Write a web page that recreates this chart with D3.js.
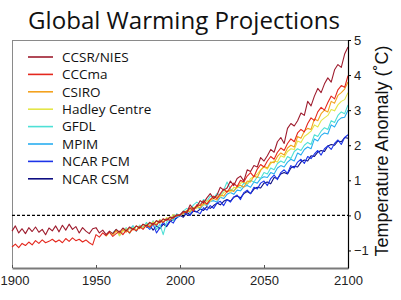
<!DOCTYPE html>
<html><head><meta charset="utf-8">
<script src="https://cdn.jsdelivr.net/npm/d3@7"></script>
<style>html,body{margin:0;padding:0;background:#fff;}svg{display:block;}</style>
</head><body>
<script>
// ---- Data (°C anomaly, 2-year steps) ----
const seriesNames = ["CCSR/NIES","CCCma","CSIRO","Hadley Centre","GFDL","MPIM","NCAR PCM","NCAR CSM"];
const seriesColors = ["#9e1c2e","#e4281e","#f4a21e","#e4e648","#4ee0d6","#2aaef0","#1c34e8","#0e0e82"];
const startYears = [1900,1900,1960,1956,1960,1970,1980,1980];
const yearStep = 2;

const ccsrNies = [-0.45,-0.30,-0.50,-0.38,-0.52,-0.35,-0.46,-0.33,-0.48,-0.40,-0.55,-0.36,-0.44,-0.30,-0.47,-0.28,-0.42,-0.25,-0.40,-0.32,-0.50,-0.35,-0.45,-0.52,-0.38,
 -0.35,-0.50,-0.42,-0.55,-0.45,-0.52,-0.40,-0.48,-0.36,-0.44,-0.33,-0.40,-0.30,-0.36,-0.25,-0.30,-0.20,-0.26,-0.15,-0.20,-0.10,-0.14,-0.05,-0.08,0.02,
 0.00,0.12,0.08,0.30,0.18,0.25,0.42,0.35,0.50,0.62,0.48,0.58,0.80,0.72,0.78,0.98,0.85,1.05,1.12,0.98,1.30,1.25,1.42,1.38,1.65,1.55,1.70,1.88,1.80,2.10,2.22,2.05,2.48,2.62,2.55,2.70,2.92,2.85,3.25,3.12,3.40,3.62,3.50,3.75,3.92,3.80,4.15,4.30,4.22,4.60,4.80];
const cccma = [-0.90,-0.82,-0.92,-0.80,-0.86,-0.76,-0.84,-0.72,-0.80,-0.70,-0.78,-0.74,-0.68,-0.76,-0.70,-0.78,-0.66,-0.74,-0.64,-0.72,-0.68,-0.76,-0.70,-0.78,-0.84,
 -0.55,-0.62,-0.50,-0.58,-0.48,-0.60,-0.52,-0.45,-0.55,-0.42,-0.50,-0.38,-0.44,-0.32,-0.40,-0.28,-0.34,-0.22,-0.28,-0.15,-0.20,-0.10,-0.14,-0.04,-0.02,
 0.02,0.10,0.08,0.22,0.12,0.30,0.28,0.42,0.32,0.45,0.55,0.48,0.62,0.75,0.66,0.80,0.92,0.82,1.00,0.95,1.12,1.22,1.10,1.32,1.45,1.38,1.55,1.68,1.60,1.80,1.92,1.85,2.05,2.18,2.10,2.35,2.45,2.38,2.62,2.78,2.70,2.95,3.08,3.00,3.22,3.40,3.32,3.58,3.70,3.65,3.98];
const csiro = [-0.55,-0.45,-0.52,-0.40,-0.48,-0.35,-0.42,-0.30,-0.38,-0.26,-0.32,-0.20,-0.28,-0.15,-0.22,-0.10,-0.14,-0.05,-0.08,0.00,
 0.02,0.05,0.14,0.10,0.22,0.26,0.22,0.35,0.32,0.45,0.48,0.44,0.58,0.55,0.68,0.72,0.68,0.82,0.86,0.80,0.98,0.95,1.12,1.08,1.28,1.40,1.35,1.52,1.50,1.68,1.78,1.72,1.92,2.00,1.95,2.25,2.20,2.40,2.48,2.45,2.75,2.70,2.90,3.00,2.95,3.25,3.20,3.42,3.50,3.60,3.80];
const hadley = [-0.60,-0.48,-0.55,-0.42,-0.58,-0.45,-0.38,-0.50,-0.35,-0.42,-0.30,-0.36,-0.25,-0.32,-0.18,-0.25,-0.12,-0.18,-0.06,-0.10,0.02,-0.02,
 0.00,0.10,0.08,0.18,0.22,0.20,0.32,0.28,0.42,0.40,0.50,0.55,0.52,0.65,0.70,0.66,0.80,0.78,0.92,0.95,0.90,1.05,1.10,1.18,1.30,1.38,1.32,1.48,1.55,1.52,1.70,1.66,1.82,1.90,1.88,2.12,2.08,2.25,2.32,2.40,2.58,2.52,2.70,2.78,2.85,3.02,2.98,3.15,3.25,3.30,3.50];
const gfdl = [-0.50,-0.40,-0.58,-0.45,-0.35,-0.52,-0.30,-0.45,-0.28,-0.38,-0.20,-0.32,-0.15,-0.40,-0.25,-0.55,-0.20,-0.05,-0.15,0.05,
 0.00,0.12,0.20,0.15,0.30,0.38,0.30,0.45,0.40,0.55,0.50,0.62,0.58,0.72,0.95,0.75,0.70,0.82,0.78,0.92,0.88,1.00,0.95,1.10,1.05,1.22,1.18,1.35,1.30,1.48,1.55,1.50,1.68,1.62,1.82,1.90,1.85,2.00,2.08,2.02,2.30,2.25,2.40,2.50,2.45,2.70,2.65,2.85,2.95,2.90,3.15];
const mpim = [-0.40,-0.30,-0.45,-0.28,-0.35,-0.22,-0.38,-0.20,-0.30,-0.12,-0.22,-0.08,-0.15,-0.02,-0.05,
 0.00,0.05,0.12,0.08,0.20,0.25,0.18,0.32,0.28,0.40,0.42,0.38,0.52,0.48,0.60,0.65,0.60,0.72,0.70,0.82,0.85,0.80,0.95,0.92,1.05,1.10,1.08,1.22,1.18,1.35,1.42,1.38,1.52,1.60,1.55,1.78,1.72,1.88,1.95,1.90,2.18,2.12,2.28,2.35,2.32,2.58,2.52,2.70,2.78,2.80,3.00];
const ncarPcm = [-0.30,-0.40,-0.25,-0.50,-0.35,-0.20,-0.30,-0.15,-0.22,-0.05,
 -0.02,0.08,0.02,0.00,0.15,0.10,0.05,0.22,0.15,0.28,0.20,0.35,0.40,0.28,0.45,0.38,0.52,0.58,0.45,0.65,0.72,0.62,0.80,0.75,0.92,0.98,0.85,1.05,1.15,1.02,1.22,1.30,1.20,1.42,1.35,1.52,1.60,1.48,1.68,1.62,1.75,1.85,1.72,1.90,1.98,1.88,2.05,2.15,2.02,2.22,2.30];
const ncarCsm = [-0.35,-0.28,-0.42,-0.30,-0.38,-0.25,-0.32,-0.18,-0.12,-0.08,
 0.00,-0.05,0.08,0.02,0.12,0.10,0.18,0.14,0.25,0.20,0.28,0.35,0.30,0.40,0.45,0.40,0.52,0.55,0.50,0.62,0.68,0.62,0.75,0.80,0.78,0.92,0.95,0.90,1.08,1.05,1.18,1.22,1.18,1.35,1.40,1.38,1.52,1.58,1.55,1.70,1.68,1.80,1.85,1.82,1.98,2.02,2.00,2.12,2.10,2.22,2.20];
const seriesValues = [ccsrNies,cccma,csiro,hadley,gfdl,mpim,ncarPcm,ncarCsm];

const xTicks = [1900,1950,2000,2050,2100];
const yTicks = [-1,0,1,2,3,4,5];
const titleText = "Global Warming Projections";
const yLabel = "Temperature Anomaly (˚C)";

// ---- Drawing ----
const W = 401, H = 300;
const svg = d3.select("body").append("svg").attr("width",W).attr("height",H);
const x = d3.scaleLinear().domain([1900,2100]).range([12,348]);
const y = d3.scaleLinear().domain([-1.5,5]).range([268,40]);

// frame
svg.append("line").attr("x1",12).attr("x2",348).attr("y1",40.5).attr("y2",40.5).attr("stroke","#8a8a8a").attr("stroke-width",1);
svg.append("line").attr("x1",12.5).attr("x2",12.5).attr("y1",40).attr("y2",268).attr("stroke","#8a8a8a").attr("stroke-width",1);

// zero line
svg.append("line").attr("x1",x(1900)).attr("x2",x(2100)).attr("y1",y(0)).attr("y2",y(0))
  .attr("stroke","#000").attr("stroke-width",1.2).attr("stroke-dasharray","3,2");

// series
const line = d3.line().x(d=>x(d[0])).y(d=>y(d[1]));
const order = d3.range(seriesNames.length).reverse();
order.forEach(i=>{
  const pts = seriesValues[i].map((v,k)=>[startYears[i]+k*yearStep, v]);
  svg.append("path").datum(pts).attr("d",line).attr("fill","none")
    .attr("stroke",seriesColors[i]).attr("stroke-width",1.1).attr("stroke-linejoin","round");
});

// bottom axis
const gx = svg.append("g").attr("transform","translate(0,268)")
  .call(d3.axisBottom(x).tickValues(xTicks).tickFormat(d3.format("d")).tickSizeInner(-3).tickSizeOuter(0).tickPadding(8));
gx.select(".domain").attr("stroke","#7a7a7a").attr("stroke-width",2);
gx.selectAll(".tick line").attr("stroke","#555");
gx.selectAll("text").attr("font-family","Liberation Sans, Arial, sans-serif").attr("font-size",13).attr("fill","#222");
gx.selectAll(".tick").filter(d=>d===1900).select("text").attr("text-anchor","start").attr("x",-12);

// right axis
const gy = svg.append("g").attr("transform","translate(348,0)")
  .call(d3.axisRight(y).tickValues(yTicks).tickFormat(d3.format("d")).tickSizeInner(3).tickSizeOuter(0).tickPadding(3));
gy.select(".domain").attr("stroke","#000").attr("stroke-width",1.2);
gy.selectAll("text").attr("font-family","Liberation Sans, Arial, sans-serif").attr("font-size",13).attr("fill","#222");

// y label
svg.append("text").attr("transform","translate(388,151) rotate(-90)")
  .attr("text-anchor","middle").attr("font-family","Liberation Sans, Arial, sans-serif")
  .attr("font-size",18).attr("fill","#111").text(yLabel);

// title
const t = svg.append("text").attr("x",184).attr("y",29).attr("text-anchor","middle")
  .attr("font-family","Open Sans, Noto Sans, sans-serif").attr("font-size",23).attr("fill","#111").text(titleText);
const tw = t.node().getComputedTextLength();
t.attr("font-size", 23*312/tw);

// legend
const leg = svg.append("g");
seriesNames.forEach((n,i)=>{
  const yy = 57 + i*17.4;
  leg.append("line").attr("x1",28).attr("x2",53).attr("y1",yy).attr("y2",yy).attr("stroke",seriesColors[i]).attr("stroke-width",1.6);
  leg.append("text").attr("x",62).attr("y",yy).attr("dy","0.35em").attr("font-family","Open Sans, Noto Sans, sans-serif")
    .attr("font-size",13.5).attr("fill","#111").text(n);
});
</script>
</body></html>
